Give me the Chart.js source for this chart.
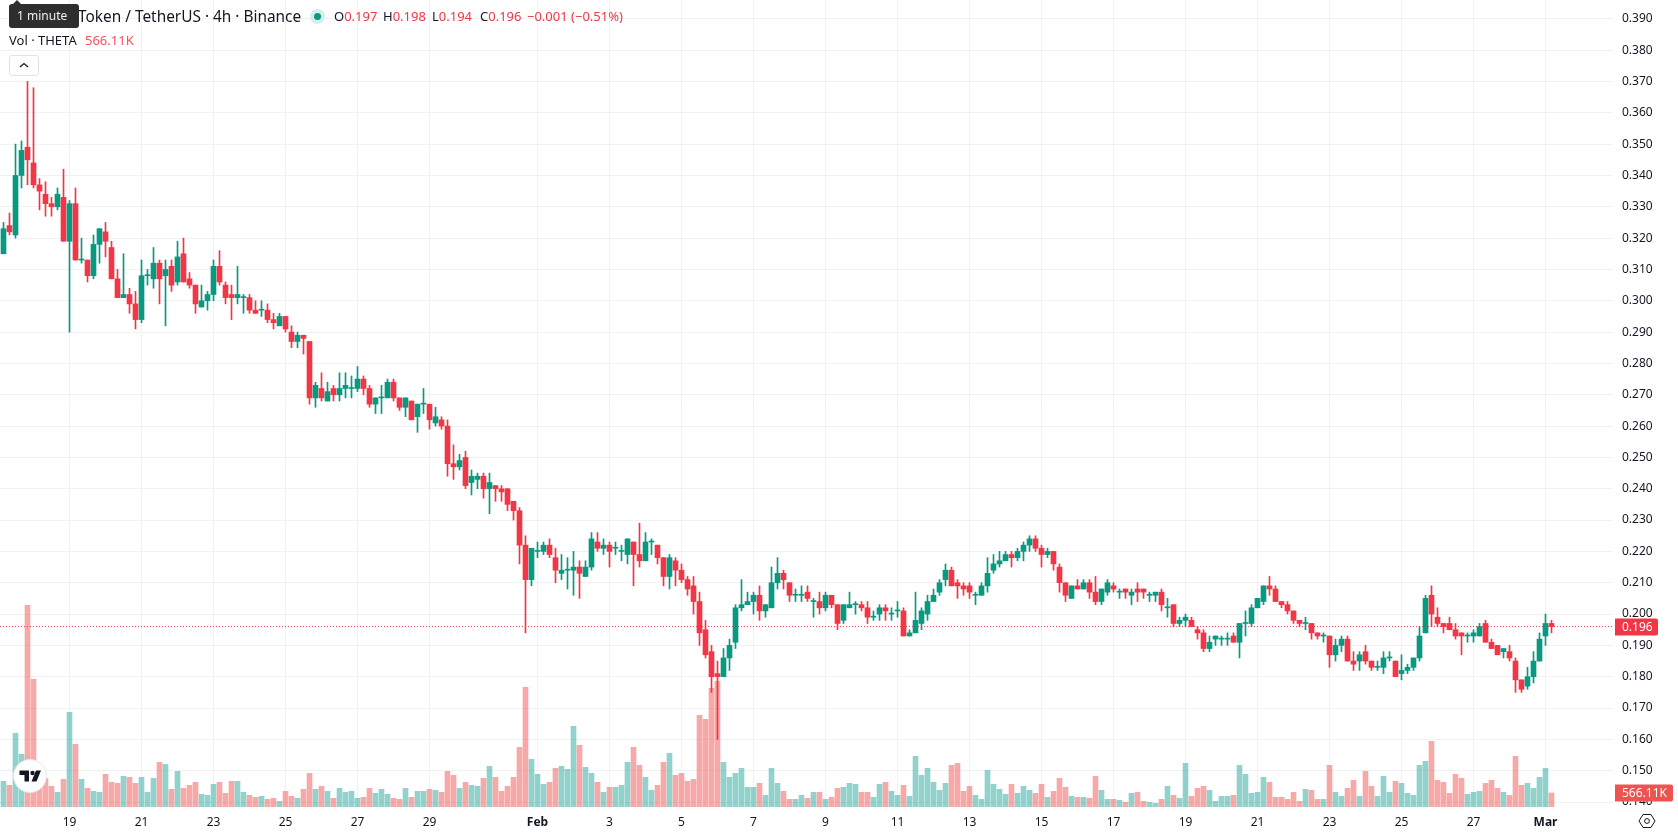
<!DOCTYPE html>
<html lang="en">
<head>
<meta charset="utf-8">
<title>THETA / USDT</title>
<script src="https://cdn.jsdelivr.net/npm/chart.js@4"></script>
<style>
    html, body { margin: 0; padding: 0; background: #fff; width: 1678px; height: 835px; overflow: hidden; }
    body { position: relative; font-family: "Noto Sans", sans-serif; color: #131722; }
    canvas { position: absolute; left: 0; top: 0; }
    .overlay { position: absolute; white-space: nowrap; line-height: 1; }
    .red { color: #f23645; }
    #hover-tip { left: 9px; top: 4px; width: 70px; height: 24px; background: #2e2e2e; border-radius: 3px; color: #f0f0f0; font-size: 12px; line-height: 24px; text-indent: 8px; }
    #hover-tip::before { content: ""; position: absolute; left: 4px; top: -4px; border: 4px solid transparent; border-top: 0; border-bottom-color: #2e2e2e; }
    #symbol-title { left: 78px; top: 9px; font-size: 15.4px; }
    #status-dot { left: 310px; top: 9px; width: 15px; height: 15px; border-radius: 50%; background: #d5eeea; }
    #status-dot::after { content: ""; position: absolute; left: 4px; top: 4px; width: 7px; height: 7px; border-radius: 50%; background: #089981; }
    .ohlc { top: 10px; font-size: 13px; }
    #vol-title { left: 9px; top: 34px; font-size: 13px; }
    #vol-value { left: 85px; top: 34px; font-size: 13px; color: #f7525f; }
    #collapse-btn { left: 9px; top: 55px; width: 28px; height: 19px; border: 1px solid #e0e3eb; border-radius: 3px; box-sizing: content-box; }
    #tv-logo { left: 12px; top: 758px; }
    #settings-icon { left: 1638px; top: 812px; }
</style>
</head>
<body>
<canvas id="candleChart" width="1678" height="835"></canvas>

<div class="overlay" id="symbol-title">Token / TetherUS · 4h · Binance</div>
<div class="overlay" id="hover-tip">1 minute</div>
<div class="overlay" id="status-dot"></div>
<div class="overlay ohlc" style="left:334px">O<span class="red">0.197</span></div>
<div class="overlay ohlc" style="left:383px">H<span class="red">0.198</span></div>
<div class="overlay ohlc" style="left:432px">L<span class="red">0.194</span></div>
<div class="overlay ohlc" style="left:480px">C<span class="red">0.196</span></div>
<div class="overlay ohlc red" style="left:527px">−0.001 (−0.51%)</div>
<div class="overlay" id="vol-title">Vol · THETA</div>
<div class="overlay" id="vol-value">566.11K</div>
<div class="overlay" id="collapse-btn">
    <svg width="28" height="19" viewBox="0 0 28 19"><path d="M10 11 L14 7.5 L18 11" fill="none" stroke="#131722" stroke-width="1.3"/></svg>
</div>
<div class="overlay" id="tv-logo">
    <svg width="36" height="36" viewBox="0 0 36 36">
        <circle cx="18" cy="18" r="16.5" fill="#fff" stroke="#e6e6e6" stroke-width="1"/>
        <path d="M7.5 12.5 H17 V23.5 H12.5 V17 H7.5 Z M24 12.5 H29 L24.5 23.5 H19.5 Z" fill="#131722"/>
        <circle cx="20.5" cy="15" r="2.2" fill="#131722"/>
    </svg>
</div>
<div class="overlay" id="settings-icon">
    <svg width="18" height="18" viewBox="0 0 18 18">
        <path d="M5 2.5 H13 L17 9 L13 15.5 H5 L1 9 Z" fill="none" stroke="#131722" stroke-width="1"/>
        <circle cx="9" cy="9" r="2.4" fill="none" stroke="#131722" stroke-width="1"/>
    </svg>
</div>

<script>
// 4h candles, oldest first
const opens = [
    0.315,0.324,0.321,0.340,0.349,0.344,0.337,0.334,0.331,0.330,
    0.333,0.319,0.331,0.313,0.313,0.308,0.318,0.322,0.317,0.307,
    0.301,0.302,0.299,0.294,0.308,0.307,0.312,0.308,0.311,0.306,
    0.315,0.307,0.305,0.298,0.300,0.302,0.311,0.305,0.302,0.301,
    0.301,0.301,0.297,0.297,0.297,0.294,0.292,0.295,0.290,0.287,
    0.289,0.287,0.269,0.272,0.268,0.272,0.270,0.272,0.272,0.272,
    0.275,0.272,0.267,0.269,0.269,0.274,0.269,0.266,0.268,0.263,
    0.267,0.267,0.261,0.262,0.260,0.248,0.247,0.250,0.242,0.243,
    0.244,0.240,0.241,0.240,0.240,0.236,0.233,0.222,0.211,0.220,
    0.220,0.222,0.218,0.213,0.214,0.214,0.215,0.212,0.215,0.223,
    0.221,0.222,0.221,0.220,0.219,0.223,0.219,0.217,0.223,0.222,
    0.218,0.212,0.217,0.214,0.211,0.209,0.204,0.195,0.188,0.181,
    0.180,0.186,0.191,0.202,0.203,0.204,0.206,0.201,0.202,0.210,
    0.213,0.210,0.206,0.206,0.207,0.204,0.204,0.202,0.206,0.203,
    0.198,0.202,0.203,0.203,0.202,0.199,0.200,0.202,0.200,0.201,
    0.201,0.193,0.194,0.197,0.200,0.204,0.207,0.211,0.214,0.210,
    0.209,0.209,0.206,0.206,0.209,0.214,0.216,0.217,0.219,0.218,
    0.220,0.222,0.224,0.221,0.219,0.220,0.215,0.210,0.205,0.209,
    0.208,0.210,0.207,0.204,0.207,0.209,0.207,0.208,0.206,0.208,
    0.208,0.206,0.206,0.207,0.202,0.203,0.197,0.198,0.198,0.195,
    0.194,0.189,0.192,0.192,0.192,0.193,0.191,0.197,0.197,0.202,
    0.204,0.209,0.208,0.204,0.203,0.201,0.198,0.197,0.197,0.194,
    0.193,0.193,0.187,0.190,0.192,0.185,0.185,0.188,0.185,0.183,
    0.183,0.186,0.185,0.181,0.182,0.183,0.186,0.194,0.206,0.199,
    0.197,0.197,0.195,0.194,0.193,0.193,0.193,0.197,0.191,0.190,
    0.188,0.188,0.185,0.179,0.177,0.180,0.185,0.193,0.197
];
const closes = [
    0.323,0.322,0.340,0.348,0.345,0.337,0.335,0.331,0.330,0.334,
    0.319,0.331,0.313,0.313,0.308,0.318,0.323,0.319,0.307,0.301,
    0.302,0.299,0.294,0.308,0.308,0.312,0.307,0.310,0.305,0.314,
    0.306,0.305,0.299,0.300,0.302,0.311,0.306,0.301,0.301,0.302,
    0.301,0.297,0.296,0.297,0.294,0.293,0.295,0.291,0.287,0.289,
    0.288,0.269,0.273,0.269,0.271,0.270,0.272,0.273,0.272,0.275,
    0.272,0.267,0.269,0.269,0.274,0.269,0.266,0.269,0.262,0.267,
    0.267,0.262,0.263,0.260,0.248,0.247,0.249,0.241,0.244,0.244,
    0.240,0.242,0.240,0.239,0.235,0.233,0.222,0.211,0.221,0.220,
    0.222,0.219,0.214,0.214,0.214,0.215,0.213,0.215,0.224,0.221,
    0.222,0.220,0.221,0.220,0.224,0.219,0.217,0.223,0.223,0.218,
    0.212,0.218,0.214,0.211,0.208,0.204,0.194,0.187,0.180,0.180,
    0.186,0.190,0.202,0.203,0.204,0.206,0.201,0.203,0.210,0.213,
    0.211,0.206,0.206,0.206,0.205,0.204,0.202,0.206,0.203,0.197,
    0.203,0.203,0.203,0.202,0.199,0.199,0.202,0.201,0.200,0.201,
    0.193,0.194,0.198,0.201,0.204,0.206,0.210,0.214,0.209,0.209,
    0.208,0.207,0.206,0.209,0.213,0.216,0.217,0.219,0.218,0.220,
    0.222,0.224,0.221,0.219,0.220,0.216,0.210,0.206,0.209,0.208,
    0.210,0.207,0.204,0.208,0.210,0.208,0.207,0.207,0.207,0.207,
    0.207,0.206,0.207,0.203,0.202,0.197,0.198,0.199,0.196,0.194,
    0.189,0.191,0.193,0.192,0.192,0.191,0.197,0.197,0.202,0.205,
    0.209,0.208,0.204,0.203,0.201,0.198,0.197,0.197,0.194,0.193,
    0.193,0.187,0.190,0.192,0.185,0.184,0.187,0.185,0.183,0.183,
    0.186,0.186,0.180,0.182,0.183,0.186,0.193,0.205,0.200,0.197,
    0.196,0.195,0.193,0.193,0.193,0.194,0.196,0.191,0.189,0.187,
    0.189,0.186,0.179,0.176,0.180,0.185,0.192,0.197,0.196
];
const highs = [
    0.325,0.328,0.350,0.351,0.370,0.368,0.339,0.338,0.333,0.336,
    0.342,0.332,0.336,0.320,0.313,0.321,0.323,0.325,0.319,0.310,
    0.315,0.304,0.303,0.313,0.310,0.317,0.313,0.313,0.313,0.319,
    0.320,0.309,0.305,0.305,0.303,0.313,0.316,0.306,0.305,0.311,
    0.302,0.302,0.300,0.300,0.299,0.296,0.296,0.295,0.292,0.290,
    0.289,0.287,0.274,0.277,0.274,0.273,0.277,0.277,0.276,0.279,
    0.276,0.273,0.269,0.273,0.275,0.275,0.269,0.269,0.268,0.267,
    0.272,0.267,0.266,0.263,0.262,0.254,0.251,0.252,0.246,0.245,
    0.245,0.245,0.241,0.241,0.240,0.236,0.234,0.225,0.221,0.223,
    0.223,0.224,0.221,0.219,0.218,0.220,0.217,0.217,0.226,0.226,
    0.224,0.223,0.223,0.222,0.224,0.223,0.229,0.226,0.224,0.222,
    0.218,0.219,0.218,0.216,0.212,0.212,0.207,0.198,0.190,0.185,
    0.189,0.192,0.203,0.211,0.207,0.207,0.209,0.203,0.215,0.218,
    0.214,0.210,0.208,0.209,0.209,0.205,0.207,0.207,0.206,0.203,
    0.203,0.207,0.204,0.204,0.204,0.201,0.203,0.203,0.202,0.204,
    0.202,0.195,0.207,0.202,0.206,0.208,0.211,0.216,0.215,0.211,
    0.210,0.210,0.207,0.210,0.218,0.219,0.220,0.220,0.220,0.221,
    0.223,0.225,0.225,0.222,0.221,0.220,0.216,0.210,0.209,0.211,
    0.211,0.211,0.212,0.208,0.211,0.210,0.208,0.208,0.208,0.210,
    0.208,0.207,0.207,0.208,0.205,0.203,0.199,0.200,0.199,0.196,
    0.195,0.193,0.193,0.193,0.194,0.194,0.197,0.201,0.203,0.205,
    0.209,0.212,0.209,0.204,0.204,0.201,0.198,0.199,0.197,0.194,
    0.194,0.193,0.192,0.193,0.193,0.188,0.188,0.190,0.185,0.185,
    0.188,0.188,0.185,0.187,0.184,0.186,0.196,0.206,0.209,0.202,
    0.197,0.199,0.197,0.194,0.194,0.195,0.197,0.198,0.192,0.190,
    0.189,0.190,0.186,0.179,0.183,0.188,0.194,0.200,0.198
];
const lows = [
    0.315,0.321,0.320,0.336,0.337,0.336,0.329,0.327,0.327,0.329,
    0.319,0.290,0.313,0.312,0.306,0.307,0.312,0.314,0.307,0.301,
    0.301,0.296,0.291,0.293,0.305,0.304,0.299,0.292,0.303,0.305,
    0.306,0.304,0.296,0.298,0.297,0.300,0.305,0.299,0.294,0.299,
    0.296,0.296,0.296,0.295,0.293,0.291,0.292,0.290,0.285,0.285,
    0.283,0.267,0.266,0.268,0.268,0.268,0.268,0.269,0.269,0.271,
    0.270,0.266,0.264,0.264,0.269,0.268,0.265,0.263,0.262,0.258,
    0.264,0.259,0.260,0.259,0.244,0.243,0.246,0.240,0.238,0.240,
    0.237,0.232,0.236,0.236,0.233,0.230,0.216,0.194,0.209,0.218,
    0.219,0.218,0.210,0.211,0.208,0.206,0.205,0.212,0.214,0.220,
    0.219,0.215,0.219,0.217,0.216,0.209,0.215,0.217,0.219,0.216,
    0.209,0.208,0.209,0.210,0.206,0.200,0.190,0.186,0.175,0.160,
    0.180,0.182,0.189,0.201,0.203,0.200,0.198,0.199,0.202,0.208,
    0.208,0.204,0.204,0.204,0.204,0.199,0.200,0.201,0.202,0.195,
    0.197,0.202,0.200,0.201,0.197,0.198,0.198,0.198,0.198,0.199,
    0.193,0.193,0.194,0.195,0.198,0.204,0.206,0.209,0.209,0.205,
    0.206,0.205,0.203,0.206,0.207,0.213,0.215,0.217,0.215,0.217,
    0.217,0.220,0.220,0.215,0.218,0.214,0.207,0.204,0.205,0.208,
    0.208,0.205,0.203,0.203,0.206,0.207,0.205,0.205,0.203,0.204,
    0.205,0.204,0.204,0.201,0.199,0.196,0.196,0.196,0.196,0.192,
    0.188,0.188,0.190,0.190,0.190,0.191,0.186,0.193,0.196,0.202,
    0.203,0.206,0.204,0.202,0.200,0.197,0.196,0.195,0.192,0.192,
    0.191,0.183,0.185,0.188,0.185,0.182,0.182,0.184,0.182,0.182,
    0.181,0.185,0.180,0.179,0.181,0.182,0.185,0.194,0.196,0.196,
    0.194,0.195,0.192,0.187,0.191,0.191,0.193,0.191,0.189,0.187,
    0.186,0.185,0.175,0.175,0.176,0.178,0.185,0.190,0.194
];
// volume per candle, thousands of THETA
const volumes = [
    1037,876,2977,2128,8149,5159,1145,1158,835,593,
    1118,3825,2532,1118,754,633,593,1320,997,956,
    1239,1199,956,1199,593,1158,1805,1724,714,1441,
    754,876,997,512,471,916,997,552,1037,1037,
    593,471,391,431,310,350,229,633,431,350,
    714,1360,714,835,633,350,754,593,633,350,
    391,754,552,714,512,350,310,754,391,633,
    633,714,674,593,1441,1280,754,997,876,835,
    1158,1643,1199,633,835,1199,2411,4836,1926,1320,
    916,997,1563,1643,1522,3260,2492,1603,1360,997,
    593,795,795,876,1805,2411,1684,1199,674,876,
    1805,2169,1280,1360,1037,1118,3704,3543,4795,5078,
    1805,1199,1360,1563,795,795,956,471,1563,956,
    633,310,310,471,350,593,593,310,391,754,
    795,956,916,593,593,391,916,997,633,471,
    876,431,2047,1280,1563,997,674,956,1684,1765,
    633,835,471,310,1482,916,714,512,916,552,
    835,674,552,916,391,633,1158,795,431,391,
    391,350,1239,674,310,310,269,189,552,593,
    229,189,148,310,835,471,350,1765,431,754,
    835,674,229,431,431,471,1684,1320,552,593,
    1199,997,391,391,310,593,229,714,674,310,
    310,1684,593,431,754,1078,431,1441,835,431,
    1239,593,1037,956,552,471,1684,1845,2654,1078,
    997,552,1320,1158,512,593,633,956,1078,754,
    593,471,2047,876,956,754,1199,1563,566.11
];

const priceTicks = [0.140,0.150,0.160,0.170,0.180,0.190,0.200,0.210,0.220,0.230,0.240,0.250,0.260,
    0.270,0.280,0.290,0.300,0.310,0.320,0.330,0.340,0.350,0.360,0.370,0.380,0.390];
const dateTickCandles = [11,23,35,47,59,71,89,101,113,125,137,149,161,173,185,197,209,221,233,245,257];
const dateTickLabels = ["19","21","23","25","27","29","Feb","3","5","7","9","11","13","15","17","19","21","23","25","27","Mar"];

const lastClose = closes[closes.length - 1];
const lastVolume = volumes[volumes.length - 1];

const UP = "#089981";
const DOWN = "#f23645";
const VOL_UP = "rgba(38,166,154,0.5)";
const VOL_DOWN = "rgba(239,83,80,0.5)";
const GRID = "#f0f1f3";
const TEXT = "#131722";
const FONT = '"Noto Sans", sans-serif';

const PANE_WIDTH = 1613;
const PANE_HEIGHT = 807;
const AXIS_WIDTH = 65;
const AXIS_HEIGHT = 28;
const CANDLE_STEP = 6;
const PX_PER_PRICE = 3133;
const VOLUME_AXIS_MAX = 32600;
const xMin = -3.5 / CANDLE_STEP;
const xMax = xMin + PANE_WIDTH / CANDLE_STEP;
const priceMax = 0.396;
const priceMin = priceMax - PANE_HEIGHT / PX_PER_PRICE;

const candleColors = closes.map((c, i) => c >= opens[i] ? UP : DOWN);
const volumeColors = closes.map((c, i) => c >= opens[i] ? VOL_UP : VOL_DOWN);

// labels sitting on the price axis for the last close and last volume
const priceTags = {
    id: "priceTags",
    afterDraw(chart) {
        const { ctx, scales } = chart;
        drawTag(ctx, scales.y.getPixelForValue(lastClose), 43, DOWN, lastClose.toFixed(3));
        drawTag(ctx, scales.volume.getPixelForValue(lastVolume), 58, "#ef5350", "566.11K");
    }
};

function drawTag(ctx, y, width, color, text) {
    const left = PANE_WIDTH + 2;
    ctx.save();
    ctx.fillStyle = color;
    ctx.beginPath();
    ctx.roundRect(left, Math.round(y) - 8.5, width, 17, [0, 2, 2, 0]);
    ctx.fill();
    ctx.fillStyle = "#fff";
    ctx.font = `12px ${FONT}`;
    ctx.textBaseline = "middle";
    ctx.textAlign = "left";
    ctx.fillText(text, PANE_WIDTH + 9, Math.round(y) + 0.5);
    ctx.restore();
}

new Chart(document.getElementById("candleChart"), {
    data: {
        datasets: [
            {
                type: "bar",
                label: "Body",
                data: opens.map((o, i) => ({ x: i, y: [o, closes[i]] })),
                backgroundColor: candleColors,
                barThickness: 5,
                minBarLength: 1,
                grouped: false,
                yAxisID: "y",
                order: 1
            },
            {
                type: "bar",
                label: "Wick",
                data: lows.map((l, i) => ({ x: i, y: [l, highs[i]] })),
                backgroundColor: candleColors,
                barThickness: 1,
                grouped: false,
                yAxisID: "y",
                order: 2
            },
            {
                type: "line",
                label: "Last price",
                data: [{ x: xMin, y: lastClose }, { x: xMax, y: lastClose }],
                borderColor: DOWN,
                borderWidth: 1,
                borderDash: [1, 2],
                pointRadius: 0,
                yAxisID: "y",
                order: 3
            },
            {
                type: "bar",
                label: "Volume",
                data: volumes.map((v, i) => ({ x: i, y: v })),
                backgroundColor: volumeColors,
                barThickness: 5,
                grouped: false,
                yAxisID: "volume",
                order: 4
            }
        ]
    },
    options: {
        responsive: false,
        animation: false,
        events: [],
        layout: { padding: 0 },
        plugins: {
            legend: { display: false },
            tooltip: { enabled: false }
        },
        scales: {
            x: {
                type: "linear",
                offset: false,
                min: xMin,
                max: xMax,
                afterBuildTicks(scale) {
                    scale.ticks = dateTickCandles.map(value => ({ value }));
                },
                afterFit(scale) {
                    scale.height = AXIS_HEIGHT;
                    scale.paddingLeft = 0;
                    scale.paddingRight = 0;
                },
                grid: { color: GRID, drawTicks: false, offset: false },
                border: { display: false },
                ticks: {
                    autoSkip: false,
                    maxRotation: 0,
                    padding: 8,
                    color: TEXT,
                    font: ctx => ({
                        family: FONT,
                        size: 12,
                        weight: isNaN(dateTickLabels[ctx.index]) ? "bold" : "normal"
                    }),
                    callback: value => dateTickLabels[dateTickCandles.indexOf(value)]
                }
            },
            y: {
                position: "right",
                min: priceMin,
                max: priceMax,
                afterBuildTicks(scale) {
                    scale.ticks = priceTicks.map(value => ({ value }));
                },
                afterFit(scale) {
                    scale.width = AXIS_WIDTH;
                    scale.paddingTop = 0;
                    scale.paddingBottom = 0;
                },
                grid: { color: GRID, drawTicks: false },
                border: { display: false },
                ticks: {
                    autoSkip: false,
                    padding: 9,
                    color: TEXT,
                    font: { family: FONT, size: 12 },
                    callback: value => value.toFixed(3)
                }
            },
            volume: {
                display: false,
                position: "left",
                min: 0,
                max: VOLUME_AXIS_MAX
            }
        }
    },
    plugins: [priceTags]
});
</script>
</body>
</html>
